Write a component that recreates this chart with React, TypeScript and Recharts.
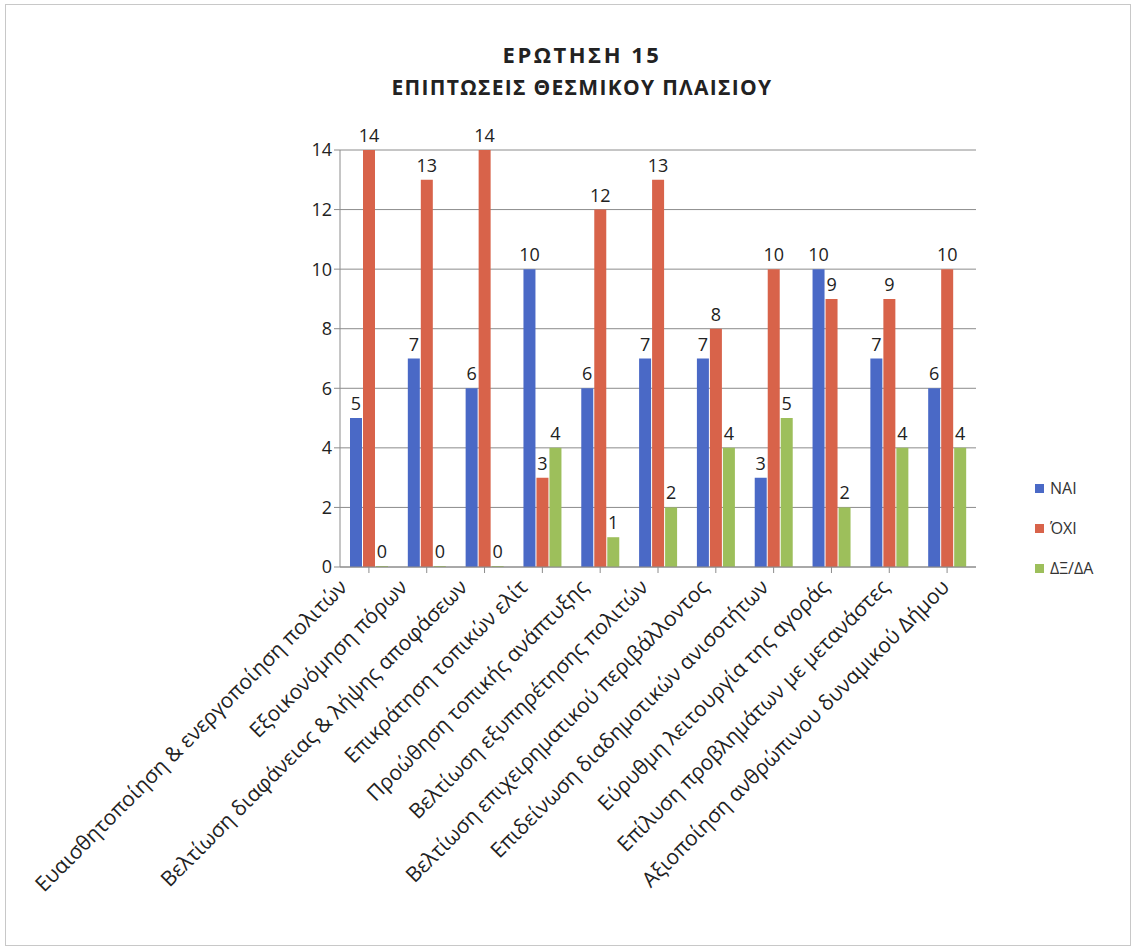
import React from "react";
import { BarChart, Bar, XAxis, YAxis, CartesianGrid, LabelList } from "recharts";

const categories = [
  "Ευαισθητοποίηση & ενεργοποίηση πολιτών",
  "Εξοικονόμηση πόρων",
  "Βελτίωση διαφάνειας & λήψης αποφάσεων",
  "Επικράτηση τοπικών ελίτ",
  "Προώθηση τοπικής ανάπτυξης",
  "Βελτίωση εξυπηρέτησης πολιτών",
  "Βελτίωση επιχειρηματικού περιβάλλοντος",
  "Επιδείνωση διαδημοτικών ανισοτήτων",
  "Εύρυθμη λειτουργία της αγοράς",
  "Επίλυση προβλημάτων με μετανάστες",
  "Αξιοποίηση ανθρώπινου δυναμικού Δήμου",
];

const nai = [5, 7, 6, 10, 6, 7, 7, 3, 10, 7, 6];
const oxi = [14, 13, 14, 3, 12, 13, 8, 10, 9, 9, 10];
const dxda = [0, 0, 0, 4, 1, 2, 4, 5, 2, 4, 4];

const yTicks = [0, 2, 4, 6, 8, 10, 12, 14];

const series = [
  { key: "nai", name: "ΝΑΙ", color: "#4A69C6" },
  { key: "oxi", name: "ΌΧΙ", color: "#D8634A" },
  { key: "dxda", name: "ΔΞ/ΔΑ", color: "#9DBF5B" },
];

const data = categories.map((name, i) => ({
  name,
  nai: nai[i],
  oxi: oxi[i],
  dxda: dxda[i],
}));

const FONT = "'Open Sans', 'Noto Sans', sans-serif";

// the 3D front face in the original spreads the labels a bit wider than the bars
function XTick(props: any) {
  const { x, y, payload } = props;
  const shift = -24 + (payload.index ?? 0) * 2.4;
  return (
    <g transform={`translate(${x + shift},${y + 10})`}>
      <text
        transform="rotate(-45)"
        textAnchor="end"
        fill="#222"
        fontSize={21}
        fontFamily={FONT}
        dy={5}
      >
        {payload.value}
      </text>
    </g>
  );
}

function LegendBox() {
  return (
    <div style={{ fontFamily: FONT, fontSize: 16, color: "#333" }}>
      {series.map((s) => (
        <div key={s.key} style={{ display: "flex", alignItems: "center", height: 40 }}>
          <span
            style={{
              display: "inline-block",
              width: 9,
              height: 9,
              background: s.color,
              marginRight: 6,
            }}
          />
          {s.name}
        </div>
      ))}
    </div>
  );
}

export default function App() {
  return (
    <div
      style={{
        position: "absolute",
        left: 0,
        top: 0,
        width: 1136,
        height: 950,
        background: "#fff",
      }}
    >
      <div
        style={{
          position: "absolute",
          left: 5,
          top: 4,
          width: 1124,
          height: 940,
          border: "1px solid #c8c8c8",
        }}
      />
      <div
        style={{
          position: "absolute",
          left: 0,
          width: 1136,
          top: 38,
          textAlign: "center",
          fontFamily: FONT,
          fontWeight: 700,
          lineHeight: "33px",
          color: "#222",
          paddingLeft: 14,
        }}
      >
        <div style={{ fontSize: 22, letterSpacing: 2.5 }}>ΕΡΩΤΗΣΗ 15</div>
        <div style={{ fontSize: 21, letterSpacing: 1.3 }}>ΕΠΙΠΤΩΣΕΙΣ ΘΕΣΜΙΚΟΥ ΠΛΑΙΣΙΟΥ</div>
      </div>
      <div style={{ position: "absolute", left: 1035, top: 468, width: 100 }}>
        <LegendBox />
      </div>
      <BarChart
        width={1136}
        height={950}
        data={data}
        margin={{ top: 150, right: 160, bottom: 10, left: 278 }}
        barGap={1}
        barSize={12}
        style={{ position: "absolute", left: 0, top: 0 }}
      >
        <CartesianGrid vertical={false} stroke="#8c8c8c" />
        <XAxis
          dataKey="name"
          interval={0}
          height={373}
          tick={<XTick />}
          tickLine={{ stroke: "#8c8c8c" }}
          axisLine={{ stroke: "#8c8c8c" }}
        />
        <YAxis
          domain={[0, 14]}
          ticks={yTicks}
          width={62}
          tick={{ fill: "#222", fontSize: 18, fontFamily: FONT }}
          tickLine={{ stroke: "#8c8c8c" }}
          axisLine={{ stroke: "#8c8c8c" }}
        />
        {series.map((s) => (
          <Bar
            key={s.key}
            dataKey={s.key}
            name={s.name}
            fill={s.color}
            minPointSize={s.key === "dxda" ? 1 : 0}
            isAnimationActive={false}
          >
            <LabelList
              dataKey={s.key}
              position="top"
              fill="#222"
              fontSize={18}
              fontFamily={FONT}
              offset={8}
            />
          </Bar>
        ))}
      </BarChart>
    </div>
  );
}
